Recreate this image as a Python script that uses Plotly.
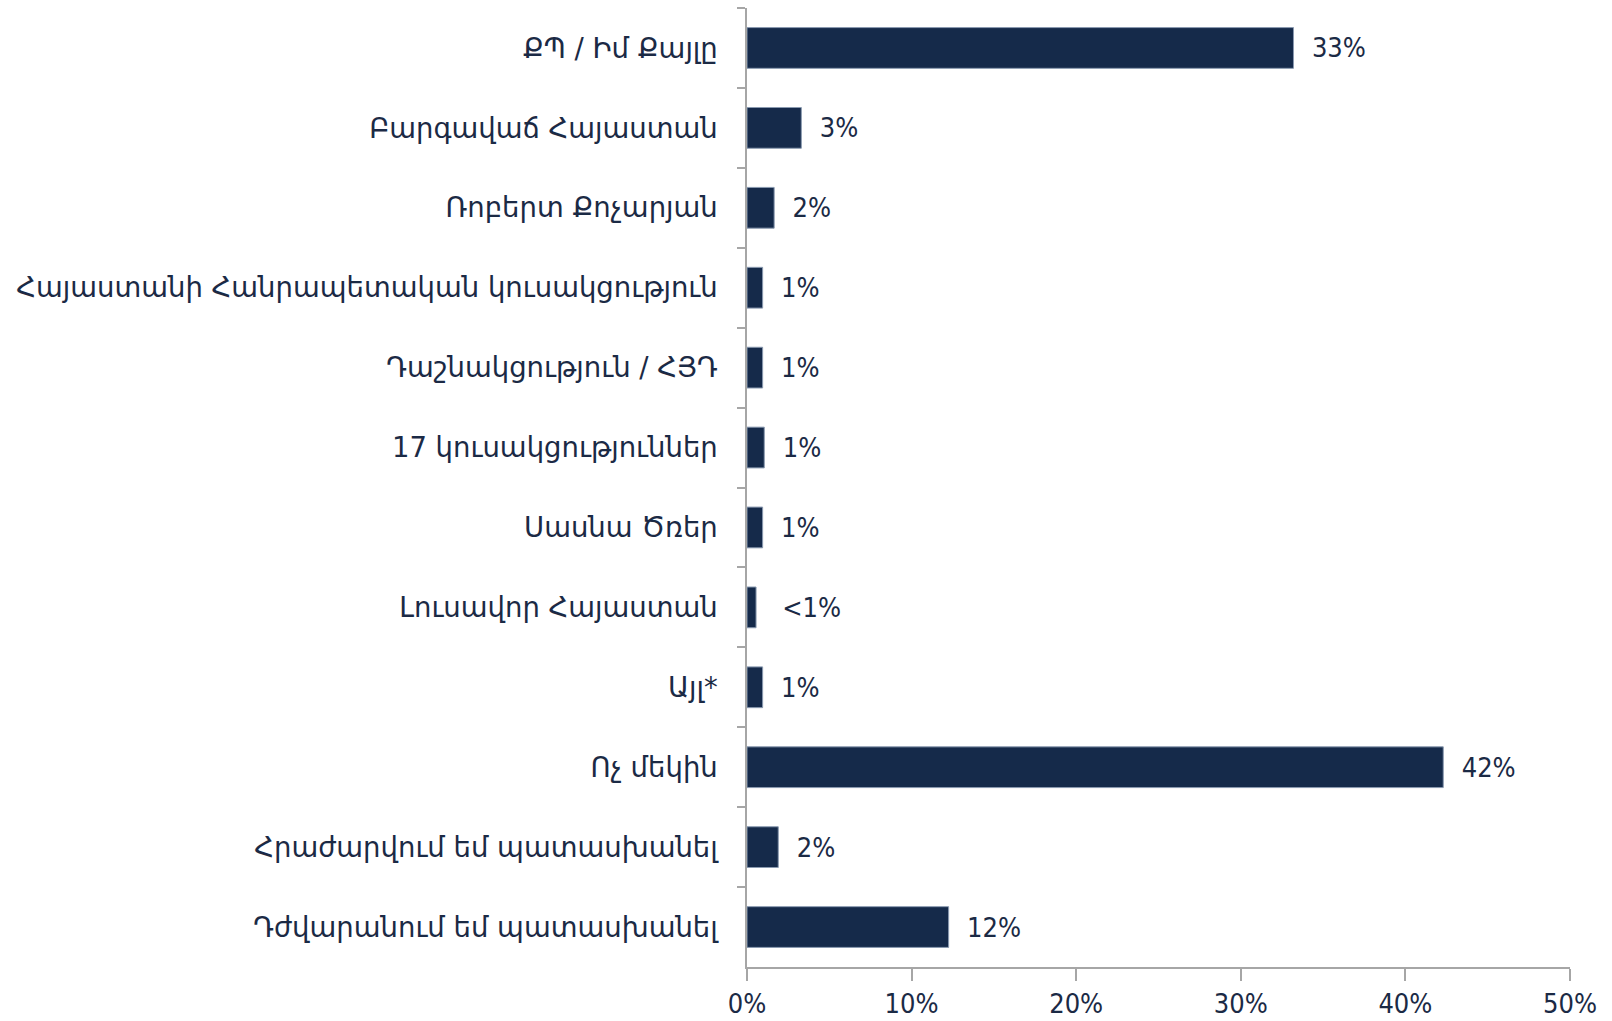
import plotly.graph_objects as go

categories = [
    "ՔՊ / Իմ Քայլը",
    "Բարգավաճ Հայաստան",
    "Ռոբերտ Քոչարյան",
    "Հայաստանի Հանրապետական կուսակցություն",
    "Դաշնակցություն / ՀՅԴ",
    "17 կուսակցություններ",
    "Սասնա Ծռեր",
    "Լուսավոր Հայաստան",
    "Այլ*",
    "Ոչ մեկին",
    "Հրաժարվում եմ պատասխանել",
    "Դժվարանում եմ պատասխանել",
]
values = [33.2, 3.3, 1.65, 0.95, 0.95, 1.05, 0.95, 0.55, 0.95, 42.3, 1.9, 12.25]
labels = ["33%", "3%", "2%", "1%", "1%", "1%", "1%", "<1%", "1%", "42%", "2%", "12%"]
x_ticks = [0, 10, 20, 30, 40, 50]
x_tick_labels = ["0%", "10%", "20%", "30%", "40%", "50%"]

NAVY = "#152a4a"
TEXT = "#1b2a45"
FONT_NUM = "DejaVu Sans Condensed"
FONT_CAT = "DejaVu Sans"

bar_text = [("   " if t.startswith("<") else "  ") + t for t in labels]

fig = go.Figure(go.Bar(
    y=categories,
    x=values,
    orientation="h",
    marker=dict(color=NAVY, line=dict(color="#8a9ab0", width=1)),
    text=bar_text,
    textposition="outside",
    textfont=dict(family=FONT_NUM, size=27, color=TEXT),
    cliponaxis=False,
))

fig.update_layout(
    width=1612, height=1021,
    margin=dict(l=747, r=42, t=8, b=54),
    plot_bgcolor="white", paper_bgcolor="white",
    bargap=0.49,
    showlegend=False,
    font=dict(family=FONT_NUM, size=27, color=TEXT),
)
fig.update_xaxes(
    range=[0, 50], tickvals=x_ticks, ticktext=x_tick_labels,
    showgrid=False, zeroline=False,
    showline=True, linecolor="#a6a6a6", linewidth=1.5,
    ticks="outside", ticklen=12, tickcolor="#a6a6a6", tickwidth=1.5,
    automargin=False,
    tickfont=dict(family=FONT_NUM, size=27, color=TEXT),
)
fig.update_yaxes(
    autorange="reversed",
    showgrid=False, zeroline=False,
    showline=True, linecolor="#a6a6a6", linewidth=1.5,
    ticks="outside", ticklen=8, tickcolor="#a6a6a6", tickwidth=1.5,
    tickson="boundaries",
    ticklabelstandoff=22,
    automargin=False,
    tickfont=dict(family=FONT_CAT, size=27.5, color=TEXT),
)

fig.write_html("out.html", config={"displayModeBar": False},
               post_script="document.body.style.margin='0';")
